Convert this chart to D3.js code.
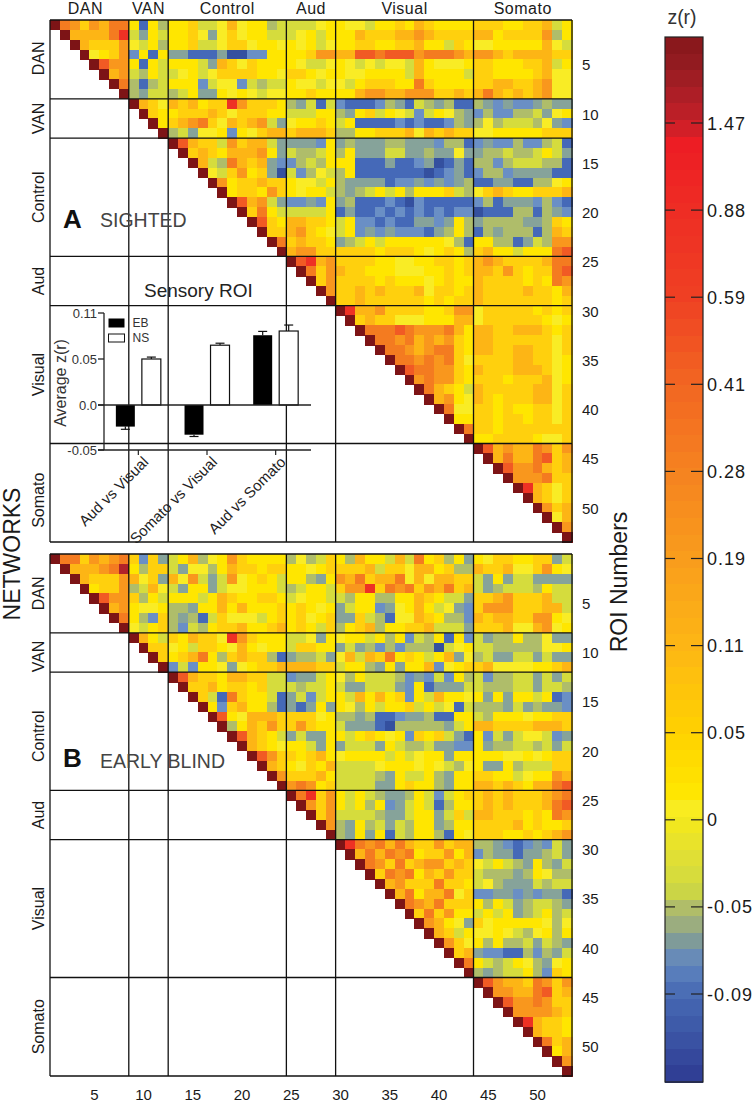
<!DOCTYPE html>
<html><head><meta charset="utf-8">
<script src="https://cdn.jsdelivr.net/npm/d3@7"></script>
<style>html,body{margin:0;padding:0;background:#fff}svg{display:block}text{font-family:"Liberation Sans",Arial,sans-serif}</style>
</head><body><svg id="c" width="756" height="1104"></svg>
<script>
// network blocks
const networks = ["DAN","VAN","Control","Aud","Visual","Somato"];
const networkEnds = [8,12,24,29,43,53];
// level codes, mapped to z(r)
const levelKeys =   ["n","b","c","g","o","l","w","y","a","A","f","F","r","R","E","D"];
const levelValues = [-0.1,-0.085,-0.065,-0.05,-0.035,-0.02,0,0.02,0.05,0.09,0.16,0.25,0.38,0.7,1.6,2.0];
const levelColors = ["#34509f","#4569b8","#6a8fc5","#86a39a","#afbd6a","#d5dc3d","#f9ec25","#ffe600","#ffd00d","#fdb515","#f9971d","#f47b20","#f15a24","#ee3124","#b0222a","#7d1416"];
// each row starts at the diagonal; blocks separated by spaces end at a network boundary
const sightedRows = [
"DFfafAFF ybyo yyallwAwyyol lllwy ywwlyyayAayyyy aaayyaaAly",
"DAAAAFR lgyl yyawgwawyyll lwyly yyAaaaAAfAaaaa AAyaaaafoy",
"DAaaaf wlyo yyallwaawyyw ywylw yyaayyaaAyylay wwyyyyyAwl",
"Dwyaf cyby ggbbbgnnccyy yyaff AArrFrrrfFFFfA ffAaAAAAaa",
"Drff ybyl yyylgAawayyy ywllw ywlwlwwlAywwwy aayyyaaAly",
"DAf loyl lwylwaaaayyw aaywy ywwyyyylAyyyyl aayyyyaAww",
"DF obol yyyclwwcloll ywwlw wlyaaayyFayyyy aaAAaaAfww",
"D ogll olyggywywlww yyayy yyAffAAfffaaAa AFAaAaAfww",
"DAaw AaAyaaRfaaay oglbl cbbbcogblogobb ogcgccgogg",
"Day yaaaAawaaayy lllyy ogyalywlclywog coccoolgwy",
"Dy aAfFawAaAflg wyyay lybbbbcbcbbcog owolllowgc",
"D olgwwycywaAA aAAAa ooyyaaaAwAaAaa wwyyyyyaaa",
"DrAaalfaAAlg gggcy gogggoogggcoob cgccoccolb",
"DaAayAAAfyg looly oygggllggoggwg gooloolylg",
"DAloFAaAgc coloy yybbbgbbcgnbgb oocollloob",
"Dwlafyagn lcowl oybbbbbbbnbcgb coocggggbb",
"DfyaaAaa ywwly oggggbccgcgcgo bbggbboowy",
"Dyaayfa ywyyl ogolylyoyyyalo waAayyaaaA",
"DrAflg ccgcy gobbbcbncbbbbb cobgggcocb",
"DaFyl lllly bgbbcbcbcbcbcc nbbboobogc",
"Dray AAaay lyccbcbbggcgyo gooooggoay",
"Daa Afayw lycgcgcccbgoyo bogoooboAa",
"DF aAaay golylyyyyyywob yyoobgloff",
"D Affaa aaaayaaaywyayo aAyylyyyFr",
"DrRAf aaaayywwyyaaya AfAaaaaAFF",
"DFaf Aaayyywwwyyaya AAafayaaFr",
"Daf aaaayayyywyayy AaaaayayFf",
"Df aaAaAaaaAwaaya AaaaaAaayA",
"D aaAaaaaaayayaa Aaaaaaaaya",
"DRAAfaaaayyaff waaaaayaya",
"DaAaawwwyyyAA waaaaaaywy",
"DFFFrFfffFAy AAaaAAAaya",
"DFFfFAfAfay AAaaaaaawa",
"DFFfAfFFay AAaaAAaawa",
"DFFfFfFaw aaaaAAaawy",
"DrFFffay AaaaAAAawy",
"DfFffay aaayaaaAwy",
"DFAayl AaaaaaAAwa",
"DAfyw AayaaaAAwa",
"DFww aayayyaawa",
"Dyy aayaayaawa",
"DF aayaaaaaaa",
"D yyaaaaywwa",
"DrAfAAFfaf",
"DAFAAFraA",
"DrffFAaA",
"DfffFaa",
"DRAawa",
"DAawa",
"DfaA",
"DwA",
"Df",
"D"];
const blindRows = [
"DFFafAfF acag lyAowyfayyyy owola yoAyylAlFyaoyg ywaayyaagl",
"DAAAfFE yoaa lgwwoyAaayaa yywya aaaAlaawAAyaoo AaaAwwafyw",
"DAaaaf Awag Awflglfwyayl yyogy fAFaAAFwAwAAaa lgygllgggg",
"Dyaaf olAw lgyyglwwyyyl olyyl affRaFfFafAFaA lgollloyll",
"Drff aoyl yyylyAayyaay lwyyl loyyooyyAayllg aaAfaaaAll",
"DAf ywwy oogyyAyAyyya yaywy glyycgwyAylwgc afffaaaAAl",
"DF yoca ogoblawwwlya yawya ggalobwwAayooc AaAAaaffyw",
"D wlya ocloyaaAyyaA yayla oyaAoyyaaAlllg aaaAwwAfwy",
"DAyl ayAaawRfayyy llwgy wyylyoycloybyc lgooyoowgg",
"Daa wylaaywAywyy laayy glgococooonlwy llooooowwy",
"Da yaAFyoaAaaob goolg wAlAaFyaylyAgw olggllglgg",
"D clcyywgwyaaA AAAaa lyyogygyyAcwya aAwwwwyyaA",
"DrAaayAAaall cggly woylllocgclcyo lcoollglgl",
"DaaAyaayall lolly lgglllgcybgggl looollgllo",
"DalbFayylb glcly ylAyAyacylAyyw ygygyylybc",
"DycaAyyob gbgyg ywoylyyalylwbl oooglgoggc",
"DrywAAAa aaawy oogobbcggobbyy loyyywyyaa",
"DoyAafa afayy lgggbnooooogly AAaaaaAAAa",
"DrAayl glggy ylyaywycayalgb yclglwwlcg",
"DAayw yylgy glllgyloolggcc ygoollolgl",
"Drfa ayaAy wyyyylylwyygyy yyywwywyaa",
"DAa ywayA llllwyyywywlow yggyolllaa",
"Df aaaAy llllogyllyogyy aayylwyyfA",
"D fFfya llllggyayyogyy AAaAayAAFr",
"DFRaf ylyloggoylclya aAaAaaaAfF",
"Dfaf ylyoycglylboyy aAaAaaaAFr",
"Daf llllogglyyglal AAaaayayFf",
"Df ogyolgloyygoyy aaaaAyayya",
"D ogygybloyyobyw aaayyayaAf",
"DRFfFAFAaafaAA oogcbcgclg",
"DAFAFfFyaafyA coggbggolg",
"DFfaFaAffaAa wlylogyogl",
"DaFfFyAafaa looogoywoo",
"DAfaaaFaay lwogggloll",
"DAFyAAFwa ccggcgcggb",
"DFfAFaaa yoylgollog",
"DaFafyy lylygolyol",
"DfAywg awyyyyywow",
"DAaly wwywlowyoy",
"Dfaw yoyoolglog",
"DaA gccbbocogl",
"DF ylolywogwy",
"D ogollyocay",
"DrfAAaFfaf",
"DffAAFraA",
"DrffFfaa",
"DffffAa",
"DRAaay",
"DAaay",
"DFaA",
"DyA",
"Df",
"D"];
const roiTicks = [5,10,15,20,25,30,35,40,45,50];
const colorbarLabels = ["1.47","0.88","0.59","0.41","0.28","0.19","0.11","0.05","0","-0.05","-0.09"];
const colorStopAt = [0,0.02,0.05,0.08,0.1,0.165,0.25,0.33,0.415,0.5,0.585,0.667,0.722,0.733,0.752,0.79,0.815,0.83,0.85,0.865,0.885,0.92,0.96,1];
const colorStops = ["#86161a","#8f1a1f","#a81e25","#c22028","#ed1c24","#ee2d24","#ef4023","#f26522","#f58220","#f99d1c","#fdb714","#ffd200","#ffe600","#fcee21","#f2e81e","#dede38","#cfd940","#b5c064","#9aac80","#7f9b99","#6287bf","#4568b2","#3a52a3","#2e3a92"];
const barGroups = ["Aud vs Visual","Somato vs Visual","Aud vs Somato"];
const barSeries = ["EB","NS"];
const ebMeans = [-0.024,-0.033,0.081];
const ebErrors = [0.003,0.002,0.005];
const nsMeans = [0.05,0.068,0.0865];
const nsErrors = [0.0025,0.0026,0.0078];
const insetTicks = [-0.05,0,0.05,0.11];
const insetTickLabels = ["-0.05","0.0","0.05","0.11"];

const svg = d3.select("#c");
const color = d3.scaleOrdinal(levelValues, levelColors);
const valueOf = new Map(levelKeys.map((k,i)=>[k,levelValues[i]]));
const ink = "#1a1a1a";

function decode(rows){
  const out=[];
  rows.forEach((row,r)=>{
    const blocks=row.split(" ");
    blocks.forEach((b,bi)=>{
      const end=networkEnds[networkEnds.length-blocks.length+bi];
      for(let i=0;i<b.length;i++){
        const col=end-b.length+i;
        const v=valueOf.get(b[i]);
        if(v!==undefined) out.push({r,col,v});
      }
    });
  });
  return out;
}
function panel(rows,top,labelOffset,letter,title,titleX,nudges){
  const x=d3.scaleLinear([0,53],[50,572]);
  const y=d3.scaleLinear([0,53],[top,top+522]);
  const g=svg.append("g");
  g.append("g").attr("shape-rendering","crispEdges").selectAll("rect").data(decode(rows)).join("rect")
    .attr("x",d=>x(d.col)).attr("y",d=>y(d.r))
    .attr("width",d=>x(d.col+1)-x(d.col)+0.5).attr("height",d=>y(d.r+1)-y(d.r)+0.5)
    .attr("fill",d=>color(d.v));
  const bounds=[0,...networkEnds];
  g.append("g").selectAll("line.v").data(bounds).join("line")
    .attr("x1",d=>x(d)).attr("x2",d=>x(d)).attr("y1",y(0)).attr("y2",y(53))
    .attr("stroke","#111").attr("stroke-width",1.3);
  g.append("g").selectAll("line.h").data(bounds).join("line")
    .attr("y1",d=>y(d)).attr("y2",d=>y(d)).attr("x1",x(0)).attr("x2",x(53))
    .attr("stroke","#111").attr("stroke-width",1.3);
  // right tick labels
  g.append("g").selectAll("text").data(roiTicks).join("text")
    .attr("x",582).attr("y",d=>y(d-0.5)+labelOffset+5.5).attr("font-size",15).attr("fill",ink).text(d=>d);
  // rotated network labels
  networks.forEach((n,i)=>{
    const c=(bounds[i]+bounds[i+1])/2;
    g.append("text").attr("transform",`translate(44,${y(c)+nudges[i]}) rotate(-90)`)
      .attr("text-anchor","middle").attr("font-size",16).attr("fill",ink).text(n);
  });
  g.append("text").attr("x",63).attr("y",y(0)+(letter==="A"?208:213)).attr("font-size",26).attr("font-weight","bold").attr("fill","#111").text(letter);
  g.append("text").attr("x",titleX).attr("y",y(0)+(letter==="A"?207:214)).attr("font-size",19.5).attr("fill","#444").text(title);
  return {x,y};
}
const A=panel(sightedRows,20,0.5,"A","SIGHTED",100,[-1,0,0,0,0,7.5]);
const B=panel(blindRows,554,5,"B","EARLY BLIND",100,[0,4,5,0,0,0]);

// top network labels
const bounds=[0,...networkEnds];
networks.forEach((n,i)=>{
  svg.append("text").attr("x",A.x((bounds[i]+bounds[i+1])/2)-(i===0?4:0)).attr("y",14)
    .attr("text-anchor","middle").attr("font-size",16).attr("letter-spacing",0.5).attr("fill",ink).text(n);
});
// bottom ROI ticks
svg.append("g").selectAll("text").data(roiTicks).join("text")
  .attr("x",d=>B.x(d-0.5)).attr("y",1100).attr("text-anchor","middle").attr("font-size",15).attr("fill",ink).text(d=>d);
// axis titles
svg.append("text").attr("transform","translate(19.5,554) rotate(-90)").attr("text-anchor","middle").attr("font-size",23).attr("fill",ink).text("NETWORKS");
svg.append("text").attr("transform","translate(627,582) rotate(-90)").attr("text-anchor","middle").attr("font-size",23).attr("fill",ink).text("ROI Numbers");

// colorbar
const bandCount=d3.range(63);
const bandY=d3.scaleBand(bandCount,[37,1082]);
const stop=d3.scaleLinear(colorStopAt,colorStops).interpolate(d3.interpolateRgb);
const cb=svg.append("g");
cb.append("g").attr("shape-rendering","crispEdges").selectAll("rect").data(bandCount).join("rect")
  .attr("x",665).attr("width",38).attr("y",d=>bandY(d)).attr("height",bandY.bandwidth()+0.6)
  .attr("fill",d=>stop((d+0.5)/bandCount.length));
cb.append("rect").attr("x",665).attr("y",37).attr("width",38).attr("height",1045).attr("fill","none").attr("stroke","#222").attr("stroke-width",1.2);
const tickY=d3.scalePoint(colorbarLabels,[123,994]);
colorbarLabels.forEach(l=>{
  const yy=tickY(l);
  cb.append("line").attr("x1",665).attr("x2",675).attr("y1",yy).attr("y2",yy).attr("stroke","#222").attr("stroke-width",1.2);
  cb.append("line").attr("x1",691).attr("x2",703).attr("y1",yy).attr("y2",yy).attr("stroke","#222").attr("stroke-width",1.2);
  cb.append("text").attr("x",707).attr("y",yy+6.5).attr("font-size",18).attr("letter-spacing",1).attr("fill",ink).text(l);
});
cb.append("text").attr("x",682).attr("y",24).attr("text-anchor","middle").attr("font-size",19.5).attr("fill","#333").text("z(r)");

// inset bar chart
const ins=svg.append("g");
ins.append("text").attr("x",144).attr("y",297).attr("font-size",19).attr("fill","#222").text("Sensory ROI");
const iy=d3.scaleLinear(insetTicks,[450,405,359,313]);
const gx=d3.scaleBand(barGroups,[104,310]);
const sx=d3.scaleBand(barSeries,[8.35,60.35]).paddingInner(0.27).paddingOuter(0.135);
const rows=barGroups.map((g,i)=>[
  {g,s:"EB",v:ebMeans[i],e:ebErrors[i]},
  {g,s:"NS",v:nsMeans[i],e:nsErrors[i]}]).flat();
const barX=d=>gx(d.g)+sx(d.s);
const cap=d=>d.v+Math.sign(d.v)*d.e;
const axisInk="#222";
const marks=ins.append("g").selectAll("g").data(rows).join("g");
marks.append("line").attr("x1",d=>barX(d)+sx.bandwidth()/2).attr("x2",d=>barX(d)+sx.bandwidth()/2)
  .attr("y1",d=>iy(d.v)).attr("y2",d=>iy(cap(d))).attr("stroke","#111").attr("stroke-width",1.2);
marks.append("line").attr("x1",d=>barX(d)+sx.bandwidth()/2-4.5).attr("x2",d=>barX(d)+sx.bandwidth()/2+4.5)
  .attr("y1",d=>iy(cap(d))).attr("y2",d=>iy(cap(d))).attr("stroke","#111").attr("stroke-width",1.2);
marks.append("rect").attr("x",barX).attr("width",sx.bandwidth())
  .attr("y",d=>Math.min(iy(d.v),iy(0))).attr("height",d=>Math.abs(iy(d.v)-iy(0)))
  .attr("fill",d=>d.s==="EB"?"#000":"#fff").attr("stroke","#111").attr("stroke-width",d=>d.s==="EB"?0:1.2);
ins.append("line").attr("x1",104).attr("x2",104).attr("y1",iy(0.11)).attr("y2",iy(-0.05)).attr("stroke",axisInk).attr("stroke-width",1.3);
ins.append("line").attr("x1",98).attr("x2",311).attr("y1",iy(0)).attr("y2",iy(0)).attr("stroke",axisInk).attr("stroke-width",1.3);
ins.append("line").attr("x1",98).attr("x2",311).attr("y1",iy(-0.05)).attr("y2",iy(-0.05)).attr("stroke",axisInk).attr("stroke-width",1.3);
insetTicks.forEach((t,i)=>{
  ins.append("line").attr("x1",98).attr("x2",104).attr("y1",iy(t)).attr("y2",iy(t)).attr("stroke",axisInk).attr("stroke-width",1.3);
  ins.append("text").attr("x",97).attr("y",iy(t)+4.5).attr("text-anchor","end").attr("font-size",13).attr("fill","#333").text(insetTickLabels[i]);
});
ins.append("text").attr("transform",`translate(66,383) rotate(-90)`).attr("text-anchor","middle").attr("font-size",16).attr("fill","#333").text("Average z(r)");
barGroups.forEach(g=>{
  const cx=gx(g)+gx.bandwidth()/2;
  ins.append("line").attr("x1",cx).attr("x2",cx).attr("y1",iy(-0.05)).attr("y2",iy(-0.05)+5).attr("stroke",axisInk).attr("stroke-width",1.2);
  ins.append("text").attr("transform",`translate(${cx+11},${463}) rotate(-45)`).attr("text-anchor","end").attr("font-size",15).attr("fill","#222").text(g);
});
[["EB","#000",318.5,9,322],["NS","#fff",334,8,337]].forEach(([t,f,yy,h,ty])=>{
  ins.append("rect").attr("x",108.5).attr("y",yy).attr("width",16).attr("height",h).attr("fill",f).attr("stroke","#111").attr("stroke-width",t==="NS"?1:0);
  ins.append("text").attr("x",132.5).attr("y",ty+4.5).attr("font-size",12).attr("fill","#333").text(t);
});
</script></body></html>
